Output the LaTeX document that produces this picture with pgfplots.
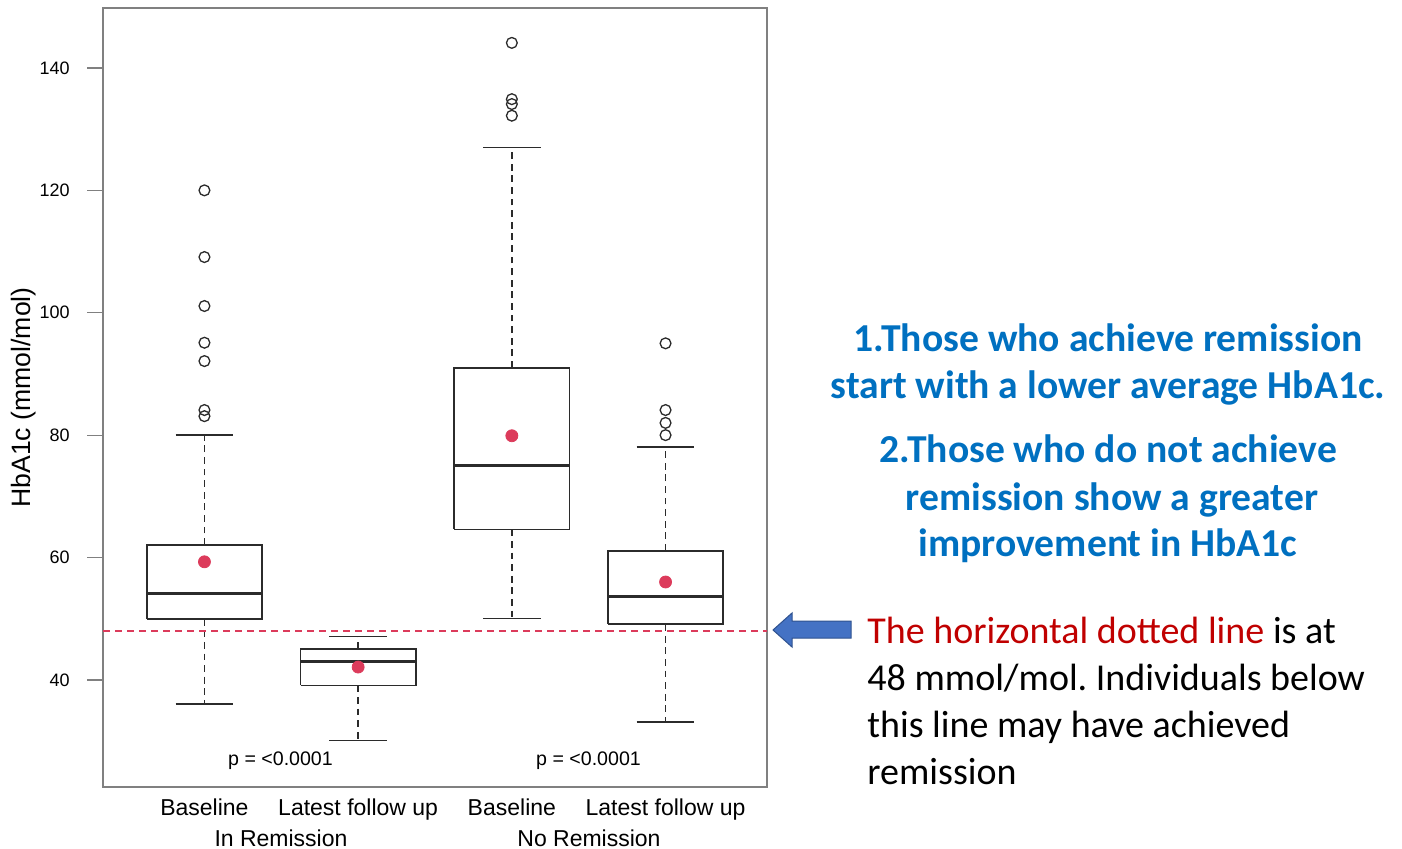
\documentclass[border=0pt]{standalone}
\usepackage{pgfplots}
\pgfplotsset{compat=1.18}
\usepackage{fontspec}
\setmainfont{Carlito}
\newfontfamily\arial{Liberation Sans}
\definecolor{meanred}{HTML}{DC3B5B}
\definecolor{boxcol}{HTML}{2B2B2B}
\definecolor{axgray}{HTML}{808080}
\definecolor{txtblue}{HTML}{0070C0}
\definecolor{txtred}{HTML}{C00000}
\definecolor{arrowfill}{HTML}{4472C4}
\definecolor{arrowline}{HTML}{2F528F}
\frenchspacing
\begin{document}
\begin{tikzpicture}
\path[use as bounding box] (0,0) rectangle (701pt,-424.5pt);
\begin{axis}[
  at={(51.5pt,-393.5pt)}, anchor=south west,
  scale only axis, width=332pt, height=389.5pt,
  xmin=0.34, xmax=4.66, ymin=22.5, ymax=149.8,
  axis line style={draw=axgray, line width=0.6pt},
  tick align=outside, ytick pos=left,
  ytick={40,60,80,100,120,140},
  y tick style={draw=axgray, line width=0.6pt},
  major tick length=8pt,
  xtick={1,2,3,4},
  xticklabels={Baseline, Latest follow up, Baseline, Latest follow up},
  x tick style={draw=none},
  xtick pos=bottom,
  /pgf/number format/assume math mode=true,
  yticklabel style={font=\arial\fontsize{9}{10}\selectfont, anchor=east, inner sep=0pt, xshift=-8.5pt},
  xticklabel style={font=\arial\fontsize{11.5}{13}\selectfont, anchor=base, inner sep=0pt, yshift=-6pt},
  ylabel={HbA1c (mmol/mol)},
  ylabel style={font=\arial\fontsize{13.3}{15}\selectfont, at={(axis description cs:-0.119,0.5)}, anchor=center},
  unbounded coords=jump,
  clip=false,
]
% whiskers (dashed)
\addplot[boxcol, line width=0.75pt, dash pattern=on 3.4pt off 2.4pt, mark=none] coordinates {
  (1,50) (1,36.1) (1,nan) (1,62.05) (1,80) (1,nan)
  (2,39.1) (2,30.1) (2,nan) (2,45.07) (2,47.1) (2,nan)
  (3,64.6) (3,50) (3,nan) (3,91.0) (3,127.0) (3,nan)
  (4,49.1) (4,33.1) (4,nan) (4,61.1) (4,78.1)
};
% staples
\addplot[boxcol, line width=0.75pt, mark=none] coordinates {
  (0.8125,36.1) (1.1875,36.1) (1,nan) (0.8125,80) (1.1875,80) (1,nan)
  (1.8125,30.1) (2.1875,30.1) (2,nan) (1.8125,47.1) (2.1875,47.1) (2,nan)
  (2.8125,50) (3.1875,50) (3,nan) (2.8125,127.0) (3.1875,127.0) (3,nan)
  (3.8125,33.1) (4.1875,33.1) (4,nan) (3.8125,78.1) (4.1875,78.1)
};
% boxes
\addplot[boxcol, line width=0.8pt, mark=none, line join=miter] coordinates {
  (0.625,50) (1.375,50) (1.375,62.05) (0.625,62.05) (0.625,50) (1,nan)
  (1.625,39.1) (2.375,39.1) (2.375,45.07) (1.625,45.07) (1.625,39.1) (2,nan)
  (2.625,64.6) (3.375,64.6) (3.375,91.0) (2.625,91.0) (2.625,64.6) (3,nan)
  (3.625,49.1) (4.375,49.1) (4.375,61.1) (3.625,61.1) (3.625,49.1)
};
% medians
\addplot[boxcol, line width=1.5pt, mark=none] coordinates {
  (0.625,54.05) (1.375,54.05) (1,nan)
  (1.625,43.05) (2.375,43.05) (2,nan)
  (2.625,75.0) (3.375,75.0) (3,nan)
  (3.625,53.6) (4.375,53.6)
};
% threshold line at 48
\addplot[meanred, line width=1.3pt, dash pattern=on 3.5pt off 2.5pt, mark=none] coordinates {(0.34,48) (4.66,48)};
% outliers
\addplot[only marks, mark=o, mark size=2.7pt, mark options={draw=boxcol, line width=0.65pt}] coordinates {
  (1,83.1) (1,84.1) (1,92.1) (1,95.1) (1,101.1) (1,109.1) (1,120)
  (3,132.2) (3,134.1) (3,134.9) (3,144.1)
  (4,80.0) (4,82.0) (4,84.1) (4,95.0)
};
% means
\addplot[only marks, mark=*, mark size=3pt, color=meanred] coordinates {(1,59.3) (2,42.1) (3,79.9) (4,56.0)};
\end{axis}
\begin{scope}[x=0.5pt,y=-0.5pt]
  \node[font=\arial\fontsize{11.5}{13}\selectfont, anchor=base, inner sep=0pt] at (281,846) {In Remission};
  \node[font=\arial\fontsize{11.5}{13}\selectfont, anchor=base, inner sep=0pt] at (589,846) {No Remission};
  \node[font=\arial\fontsize{9.8}{11}\selectfont, anchor=base, inner sep=0pt] at (280.5,765) {p = <0.0001};
  \node[font=\arial\fontsize{9.8}{11}\selectfont, anchor=base, inner sep=0pt] at (588.5,765) {p = <0.0001};
  \filldraw[fill=arrowfill, draw=arrowline, line width=0.5pt]
    (773,630) -- (792,613) -- (792,621) -- (851,621) -- (851,638) -- (792,638) -- (792,647) -- cycle;
  \begin{scope}[every node/.style={font=\fontsize{19.8}{23.5}\selectfont\bfseries, text=txtblue, anchor=base, inner sep=0pt}]
    \node at (1108,352) {1.Those who achieve remission};
    \node at (1108,399) {start with a lower average HbA1c.};
    \node at (1108,463) {2.Those who do not achieve};
    \node at (1112,510) {remission show a greater};
    \node at (1108,557) {improvement in HbA1c};
  \end{scope}
  \begin{scope}[every node/.style={font=\fontsize{19}{23.5}\selectfont, anchor=base west, inner sep=0pt}]
    \node at (867,643) {\textcolor{txtred}{The horizontal dotted line} is at};
    \node at (867,690) {48 mmol/mol. Individuals below};
    \node at (867,737) {this line may have achieved};
    \node at (867,784) {remission};
  \end{scope}
\end{scope}
\end{tikzpicture}
\end{document}
